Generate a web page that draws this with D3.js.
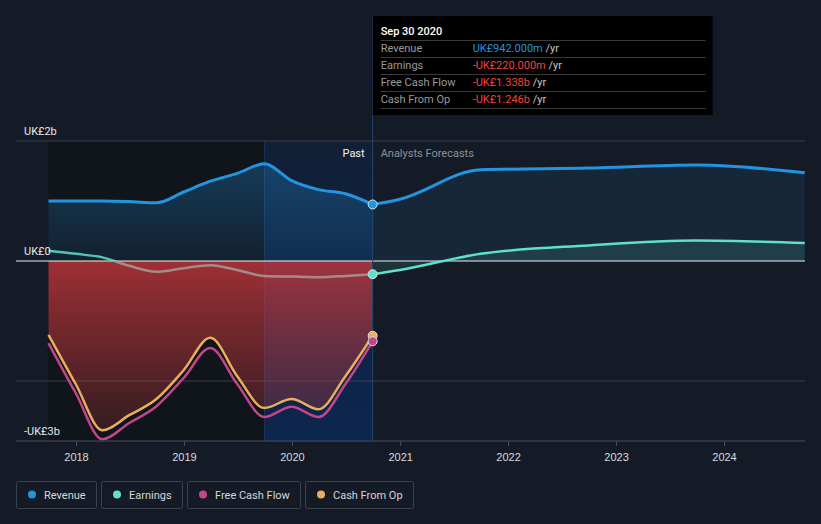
<!DOCTYPE html>
<html>
<head>
<meta charset="utf-8">
<script src="https://cdn.jsdelivr.net/npm/d3@7"></script>
<style>
  body { margin: 0; background: #151b26; }
  svg { display: block; font-family: Roboto, "Open Sans", sans-serif; }
</style>
</head>
<body>
<svg id="chart" width="821" height="524"></svg>
<script>
// data (UK£ billions)
const pastDates = ['2017-09-30','2017-12-31','2018-03-31','2018-06-30','2018-09-30','2018-12-31',
                   '2019-03-31','2019-06-30','2019-09-30','2019-12-31','2020-03-31','2020-06-30','2020-09-30'];
const pastRevenue  = [1.00, 1.00, 1.00, 0.99, 0.97, 1.15, 1.33, 1.46, 1.62, 1.34, 1.19, 1.12, 0.942];
const pastEarnings = [0.17, 0.12, 0.06, -0.08, -0.18, -0.12, -0.07, -0.15, -0.25, -0.26, -0.27, -0.25, -0.22];
const pastFcf      = [-1.37, -2.20, -2.97, -2.70, -2.42, -1.95, -1.45, -2.05, -2.60, -2.43, -2.60, -2.05, -1.338];
const pastCfo      = [-1.23, -2.05, -2.82, -2.57, -2.30, -1.82, -1.28, -1.92, -2.45, -2.30, -2.47, -1.92, -1.246];

const fcDates    = ['2020-09-30','2020-12-31','2021-09-30','2022-09-30','2023-09-30','2024-09-30'];
const fcRevenue  = [0.942, 1.03, 1.52, 1.55, 1.60, 1.47];
const fcEarnings = [-0.22, -0.15, 0.12, 0.26, 0.34, 0.30];

const yTicks = [{v: 2, label: 'UK£2b'}, {v: 0, label: 'UK£0'}, {v: -3, label: '-UK£3b'}];
const xTickYears = [2018, 2019, 2020, 2021, 2022, 2023, 2024];

const tipTitle = 'Sep 30 2020';
const tipRows = [
  ['Revenue', 'UK£942.000m', '#2394df'],
  ['Earnings', '-UK£220.000m', '#f0433a'],
  ['Free Cash Flow', '-UK£1.338b', '#f0433a'],
  ['Cash From Op', '-UK£1.246b', '#f0433a']
];
const legendItems = [
  ['Revenue', '#2394df'], ['Earnings', '#5fe0c9'],
  ['Free Cash Flow', '#c4468a'], ['Cash From Op', '#e9ae5b']
];

const C = {rev: '#2394df', earn: '#5fe0c9', fcf: '#c4468a', cfo: '#e9ae5b'};

const parse = d3.timeParse('%Y-%m-%d');
const past = pastDates.map((d, i) => ({date: parse(d), rev: pastRevenue[i], earn: pastEarnings[i], fcf: pastFcf[i], cfo: pastCfo[i]}));
const fc = fcDates.map((d, i) => ({date: parse(d), rev: fcRevenue[i], earn: fcEarnings[i]}));

const svg = d3.select('#chart');
const pLeft = 16, pRight = 805, pTop = 141, pBottom = 441;

const x = d3.scaleTime().domain([new Date(2018, 0, 1), new Date(2024, 0, 1)]).range([76, 724]);
const y = d3.scaleLinear().domain([-3, 2]).range([pBottom, pTop]);

const now = past[past.length - 1].date;
const bandStart = parse('2019-09-30');

const defs = svg.append('defs');
function vGrad(id, stops, y1, y2) {
  const g = defs.append('linearGradient').attr('id', id)
    .attr('gradientUnits', 'userSpaceOnUse').attr('x1', 0).attr('x2', 0).attr('y1', y1).attr('y2', y2);
  stops.forEach(s => g.append('stop').attr('offset', s[0]).attr('stop-color', s[1]).attr('stop-opacity', s[2]));
}
vGrad('bandG', [[0, '#0a2a5c', 0.3], [1, '#0a2a5c', 0.75]], pTop, pBottom);
vGrad('revG', [[0, C.rev, 0.3], [1, C.rev, 0.1]], y(1.6), y(0));
vGrad('redG', [[0, '#d63a3e', 0.72], [1, '#c03a3a', 0.18]], y(0), pBottom);
// past earnings: teal above zero, muted grey once it is inside the red fill
vGrad('earnPastG', [[0, C.earn, 1], [0.5, C.earn, 1], [0.5, '#a8999b', 1], [1, '#a8999b', 1]], y(0) - 40, y(0) + 40);

// past background + last-year band
svg.append('rect').attr('x', x(past[0].date)).attr('y', pTop)
  .attr('width', x(bandStart) - x(past[0].date)).attr('height', pBottom - pTop).attr('fill', '#10141b');
svg.append('rect').attr('x', x(bandStart)).attr('y', pTop)
  .attr('width', x(now) - x(bandStart)).attr('height', pBottom - pTop).attr('fill', 'url(#bandG)');
svg.append('line').attr('x1', x(bandStart)).attr('x2', x(bandStart)).attr('y1', pTop).attr('y2', pBottom)
  .attr('stroke', '#1a3560').attr('stroke-width', 1);

const curve = d3.curveMonotoneX;
const area = key => d3.area().curve(curve).x(d => x(d.date)).y0(y(0)).y1(d => y(d[key]));
const line = key => d3.line().curve(curve).x(d => x(d.date)).y(d => y(d[key]));

// fills
svg.append('path').datum(past).attr('d', area('rev')).attr('fill', 'url(#revG)');
svg.append('path').datum(fc).attr('d', area('rev')).attr('fill', C.rev).attr('fill-opacity', 0.1);
svg.append('path').datum(fc).attr('d', area('earn')).attr('fill', C.earn).attr('fill-opacity', 0.12);

// gridlines
[2, -2].forEach(v => svg.append('line').attr('x1', pLeft).attr('x2', pRight).attr('y1', y(v)).attr('y2', y(v))
  .attr('stroke', '#3a404b').attr('stroke-width', 1));

// red cash-flow fill
svg.append('path').datum(past).attr('d', area('cfo')).attr('fill', 'url(#redG)');

// zero line
svg.append('line').attr('x1', pLeft).attr('x2', pRight).attr('y1', y(0)).attr('y2', y(0))
  .attr('stroke', '#f0f0f0').attr('stroke-width', 1);

// lines
svg.append('path').datum(past).attr('d', line('earn')).attr('fill', 'none')
  .attr('stroke', 'url(#earnPastG)').attr('stroke-width', 2.5).attr('stroke-opacity', 0.85);
svg.append('path').datum(past).attr('d', line('rev')).attr('fill', 'none').attr('stroke', C.rev).attr('stroke-width', 3);
svg.append('path').datum(fc).attr('d', line('rev')).attr('fill', 'none').attr('stroke', C.rev).attr('stroke-width', 3);
svg.append('path').datum(fc).attr('d', line('earn')).attr('fill', 'none').attr('stroke', C.earn).attr('stroke-width', 2.5);
svg.append('path').datum(past).attr('d', line('fcf')).attr('fill', 'none').attr('stroke', C.fcf).attr('stroke-width', 2.5);
svg.append('path').datum(past).attr('d', line('cfo')).attr('fill', 'none').attr('stroke', C.cfo).attr('stroke-width', 2.5);

// x axis
svg.append('line').attr('x1', pLeft).attr('x2', pRight).attr('y1', pBottom).attr('y2', pBottom)
  .attr('stroke', '#4a505a').attr('stroke-width', 1);
const xAxis = d3.axisBottom(x).tickValues(xTickYears.map(yr => new Date(yr, 0, 1)))
  .tickFormat(d3.timeFormat('%Y')).tickSizeInner(5).tickSizeOuter(0);
const xg = svg.append('g').attr('transform', `translate(0,${pBottom})`).call(xAxis);
xg.select('.domain').remove();
xg.selectAll('line').attr('stroke', '#4a505a');
xg.selectAll('text').attr('fill', '#d8dadd').attr('font-size', 11).attr('dy', '1.05em');

// y labels
svg.selectAll('.ylab').data(yTicks).join('text').attr('class', 'ylab')
  .attr('x', 24).attr('y', d => y(d.v) - 6).attr('fill', '#e8e8e8').attr('font-size', 11)
  .text(d => d.label);

// past / forecasts
svg.append('text').attr('x', x(now) - 8).attr('y', 157).attr('text-anchor', 'end')
  .attr('fill', '#f2f2f2').attr('font-size', 11).text('Past');
svg.append('text').attr('x', x(now) + 8).attr('y', 157)
  .attr('fill', '#8b9099').attr('font-size', 11).text('Analysts Forecasts');

// cursor line
svg.append('line').attr('x1', x(now)).attr('x2', x(now)).attr('y1', 16).attr('y2', pBottom)
  .attr('stroke', '#24456e').attr('stroke-width', 1);

// end points
[['cfo', C.cfo], ['fcf', C.fcf], ['earn', C.earn], ['rev', C.rev]].forEach(([k, c]) => {
  const d = past[past.length - 1];
  svg.append('circle').attr('cx', x(d.date)).attr('cy', y(d[k])).attr('r', 4.5)
    .attr('fill', c).attr('stroke', '#d8e0ea').attr('stroke-width', 1);
});

// tooltip
const tx = x(now);
const tip = svg.append('g').attr('transform', `translate(${tx},16)`);
tip.append('rect').attr('width', 340).attr('height', 99).attr('fill', '#000');
tip.append('text').attr('x', 8).attr('y', 19).attr('fill', '#fff').attr('font-size', 11)
  .attr('font-weight', 500).text(tipTitle);
[24, 41, 58, 75, 92].forEach(ly => tip.append('line').attr('x1', 8).attr('x2', 333)
  .attr('y1', ly + 0.5).attr('y2', ly + 0.5).attr('stroke', '#3a3a3a'));
tipRows.forEach((r, i) => {
  const ry = 36 + i * 17;
  tip.append('text').attr('x', 8).attr('y', ry).attr('fill', '#9a9a9a').attr('font-size', 11).text(r[0]);
  const t = tip.append('text').attr('x', 100).attr('y', ry).attr('font-size', 11);
  t.append('tspan').attr('fill', r[2]).text(r[1]);
  t.append('tspan').attr('fill', '#c8c8c8').text(' /yr');
});

// legend
let lx = 16;
legendItems.forEach(([name, c]) => {
  const g = svg.append('g').attr('transform', `translate(${lx},481)`);
  const t = g.append('text').attr('x', 28).attr('y', 17.5).attr('fill', '#d4d6d9').attr('font-size', 11).text(name);
  const w = Math.round(t.node().getComputedTextLength() + 38);
  g.insert('rect', 'text').attr('x', 0.5).attr('y', 0.5).attr('width', w).attr('height', 27)
    .attr('rx', 2).attr('fill', 'none').attr('stroke', '#3c424c');
  g.append('circle').attr('cx', 16).attr('cy', 13.5).attr('r', 4).attr('fill', c);
  lx += w + 5;
});
</script>
</body>
</html>
